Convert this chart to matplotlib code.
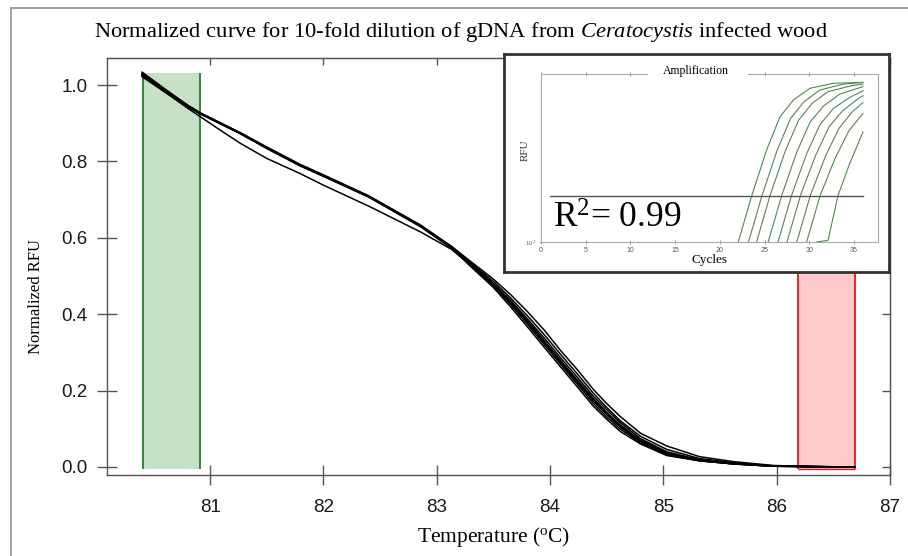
import matplotlib
matplotlib.use("Agg")
import matplotlib.pyplot as plt
from matplotlib.lines import Line2D
from matplotlib.patches import Rectangle
from matplotlib.ticker import NullLocator

plt.rcParams["mathtext.fontset"] = "custom"
plt.rcParams["mathtext.rm"] = "Liberation Serif"
plt.rcParams["mathtext.it"] = "Liberation Serif:italic"
plt.rcParams["font.family"] = ["Liberation Sans", "DejaVu Sans"]

# ---------------- data: melt curves ----------------
temps = [80.40, 80.60, 80.80, 80.91, 81.10, 81.27, 81.50, 81.79, 82.00, 82.40,
         82.86, 83.13, 83.30, 83.50, 83.65, 83.80, 83.95, 84.09, 84.24, 84.38,
         84.50, 84.62, 84.80, 85.03, 85.32, 85.62, 85.97, 86.30, 86.69]

melt_1 = [1.030, 0.987, 0.946, 0.927, 0.899, 0.874, 0.836, 0.791, 0.763, 0.709,
          0.632, 0.578, 0.538, 0.492, 0.452, 0.407, 0.358, 0.306, 0.255, 0.204,
          0.166, 0.132, 0.088, 0.055, 0.027, 0.014, 0.004, 0.001, 0.000]
melt_2 = [1.034, 0.990, 0.948, 0.928, 0.900, 0.875, 0.838, 0.793, 0.765, 0.710,
          0.633, 0.577, 0.535, 0.486, 0.443, 0.396, 0.346, 0.296, 0.244, 0.194,
          0.156, 0.121, 0.080, 0.046, 0.022, 0.011, 0.003, 0.001, 0.000]
melt_3 = [1.027, 0.985, 0.945, 0.926, 0.898, 0.873, 0.835, 0.790, 0.762, 0.708,
          0.630, 0.575, 0.532, 0.481, 0.437, 0.388, 0.337, 0.287, 0.235, 0.186,
          0.150, 0.116, 0.074, 0.040, 0.019, 0.009, 0.003, 0.001, 0.000]
melt_4 = [1.022, 0.982, 0.944, 0.925, 0.897, 0.872, 0.834, 0.789, 0.761, 0.707,
          0.629, 0.574, 0.530, 0.478, 0.433, 0.383, 0.330, 0.280, 0.228, 0.180,
          0.143, 0.110, 0.070, 0.037, 0.018, 0.009, 0.003, 0.001, 0.000]
melt_5 = [1.025, 0.984, 0.945, 0.926, 0.899, 0.874, 0.837, 0.792, 0.764, 0.709,
          0.631, 0.575, 0.529, 0.476, 0.430, 0.379, 0.325, 0.275, 0.222, 0.173,
          0.137, 0.104, 0.066, 0.034, 0.017, 0.008, 0.002, 0.001, 0.000]
melt_6 = [1.031, 0.988, 0.947, 0.927, 0.898, 0.873, 0.836, 0.791, 0.763, 0.708,
          0.630, 0.574, 0.527, 0.474, 0.426, 0.374, 0.320, 0.270, 0.217, 0.167,
          0.131, 0.099, 0.063, 0.032, 0.016, 0.008, 0.002, 0.001, 0.000]
melt_7 = [1.025, 0.982, 0.940, 0.918, 0.880, 0.847, 0.808, 0.769, 0.738, 0.683,
          0.615, 0.570, 0.528, 0.477, 0.432, 0.381, 0.328, 0.278, 0.225, 0.177,
          0.140, 0.107, 0.068, 0.036, 0.017, 0.008, 0.002, 0.001, 0.000]
melt_8 = [1.028, 0.986, 0.946, 0.926, 0.898, 0.873, 0.835, 0.790, 0.762, 0.707,
          0.629, 0.573, 0.525, 0.470, 0.420, 0.367, 0.313, 0.263, 0.210, 0.160,
          0.125, 0.093, 0.060, 0.030, 0.016, 0.008, 0.002, 0.001, 0.000]
melt_curves = [melt_1, melt_2, melt_3, melt_4, melt_5, melt_6, melt_7, melt_8]

green_range = (80.41, 80.91)
red_range = (86.19, 86.69)
band_top = 1.032

x_ticks = [81, 82, 83, 84, 85, 86, 87]
y_ticks = [0.0, 0.2, 0.4, 0.6, 0.8, 1.0]
y_tick_labels = ["0.0", "0.2", "0.4", "0.6", "0.8", "1.0"]

# ---------------- data: amplification inset (cycle, log10 RFU) ----------------
amp_1 = [(22.06, 2.00), (23.56, 2.55), (25.24, 3.10), (26.72, 3.49), (28.21, 3.69), (30.08, 3.83), (32.68, 3.89), (36.0, 3.90)]
amp_2 = [(23.20, 2.00), (24.70, 2.55), (26.40, 3.09), (27.90, 3.47), (29.40, 3.67), (31.20, 3.81), (33.80, 3.88), (36.0, 3.90)]
amp_3 = [(24.10, 2.00), (25.60, 2.55), (27.30, 3.08), (28.80, 3.45), (30.30, 3.65), (32.10, 3.79), (34.70, 3.86), (36.0, 3.88)]
amp_4 = [(25.40, 2.00), (26.90, 2.55), (28.60, 3.07), (30.10, 3.43), (31.60, 3.62), (33.40, 3.76), (36.0, 3.85)]
amp_5 = [(26.50, 2.00), (28.00, 2.55), (29.70, 3.05), (31.20, 3.40), (32.70, 3.59), (34.50, 3.72), (36.0, 3.80)]
amp_6 = [(27.50, 2.00), (29.00, 2.55), (30.70, 3.03), (32.20, 3.37), (33.70, 3.56), (35.50, 3.71), (36.0, 3.74)]
amp_7 = [(28.60, 2.00), (30.10, 2.55), (31.80, 3.02), (33.30, 3.35), (34.80, 3.55), (36.0, 3.66)]
amp_8 = [(29.70, 2.00), (31.20, 2.55), (32.90, 3.00), (34.40, 3.32), (36.0, 3.53)]
amp_9 = [(30.80, 2.00), (32.10, 2.02), (33.20, 2.55), (34.50, 2.93), (36.0, 3.31)]
amp_curves = [amp_1, amp_2, amp_3, amp_4, amp_5, amp_6, amp_7, amp_8, amp_9]
threshold_level = 2.55
threshold_span = (1.0, 35.97)
amp_x_ticks = [0, 5, 10, 15, 20, 25, 30, 35]
r2_text = "R$^{2}$= 0.99"

# ---------------- figure ----------------
W, H = 908, 556
fig = plt.figure(figsize=(W / 100, H / 100), dpi=100)

def fx(px):
    return px / W

def fy(py):
    return 1 - py / H

# outer frame lines (left and top)
fig.add_artist(Line2D([fx(11), fx(11)], [0, fy(8)], color="#9a9a9a", lw=1.3))
fig.add_artist(Line2D([fx(11), 1], [fy(8), fy(8)], color="#9a9a9a", lw=1.3))

ax = fig.add_axes([fx(107), fy(475), fx(890) - fx(107), fy(58) - fy(475)])
ax.set_xlim(80.09, 87.0)
ax.set_ylim(-0.021, 1.071)

ax.add_patch(Rectangle((green_range[0], -0.004), green_range[1] - green_range[0],
                       band_top + 0.004, facecolor="#c6e1c6", edgecolor="none", zorder=1))
ax.vlines(list(green_range), -0.004, band_top, colors="#2b7a2b", lw=1.3, zorder=2)
ax.add_patch(Rectangle((red_range[0], -0.004), red_range[1] - red_range[0],
                       band_top + 0.004, facecolor="#ffcaca", edgecolor="none", zorder=1))
ax.vlines(list(red_range), -0.004, band_top, colors="#e8161b", lw=1.3, zorder=2)
ax.hlines(-0.004, red_range[0], red_range[1], colors="#e8161b", lw=1.0, zorder=2)

for curve in melt_curves:
    ax.plot(temps, curve, color="black", lw=1.1, zorder=3, solid_joinstyle="round")

for s in ax.spines.values():
    s.set_color("#555555")
    s.set_linewidth(1.0)

ax.set_xticks(x_ticks)
ax.set_xticklabels([str(t) for t in x_ticks])
ax.set_yticks(y_ticks)
ax.set_yticklabels(y_tick_labels)
ax.tick_params(axis="both", direction="inout", length=14, width=1.0, color="#555555",
               labelsize=13.5, labelcolor="#1a1a1a")
ax.tick_params(axis="x", pad=10)
ax.tick_params(axis="y", pad=7)

secx = ax.secondary_xaxis("top")
secx.set_xticks(x_ticks)
secx.tick_params(direction="in", length=5, width=1.0, color="#555555", labeltop=False)
secx.spines["top"].set_color("#555555")
secy = ax.secondary_yaxis("right")
secy.set_yticks(y_ticks)
secy.tick_params(direction="in", length=6, width=1.0, color="#555555", labelright=False)
secy.spines["right"].set_color("#555555")

# titles and labels
fig.text(fx(461), fy(32),
         "Normalized curve for 10-fold dilution of gDNA from $\\mathit{Ceratocystis}$ infected wood",
         ha="center", va="center", fontsize=16.2, family="Liberation Serif")
fig.text(fx(36), fy(297), "Normalized RFU", rotation=90, ha="center", va="center",
         fontsize=12, family="Liberation Serif")
fig.text(fx(494), fy(537), "Temperature ($^{\\mathrm{o}}$C)", ha="center", va="center",
         fontsize=15.5, family="Liberation Serif")

# ---------------- inset ----------------
box = fig.add_axes([fx(504), fy(272), fx(889) - fx(504), fy(54) - fy(272)])
box.set_xticks([])
box.set_yticks([])
box.set_facecolor("white")
for s in box.spines.values():
    s.set_color("#333333")
    s.set_linewidth(2.0)

ins = fig.add_axes([fx(541), fy(242), fx(878) - fx(541), fy(74) - fy(242)])
ins.set_facecolor("white")
ins.set_xlim(0, 37.68)
ins.set_yscale("log")
ins.set_ylim(100, 10000)
ins.yaxis.set_minor_locator(NullLocator())
ins.set_yticks([100])
ins.set_yticklabels(["$10^2$"])
ins.set_xticks(amp_x_ticks)
ins.set_xticklabels([str(t) for t in amp_x_ticks])
ins.tick_params(axis="both", direction="inout", length=3, width=0.6, color="#888888",
                labelsize=5, labelcolor="#555555", pad=2, top=True)
for s in ins.spines.values():
    s.set_color("#aaaaaa")
    s.set_linewidth(0.8)

for curve in amp_curves:
    cx = [p[0] for p in curve]
    cy = [10 ** p[1] for p in curve]
    ins.plot(cx, cy, color="#4f8a4f", lw=0.8)

ins.plot(list(threshold_span), [10 ** threshold_level] * 2, color="#555555", lw=1.0)
ins.text(1.34, 10 ** 2.17, r2_text, fontsize=25.5, family="Liberation Serif",
         ha="left", va="baseline")
ins.text((696 - 541) / 337, (242 - 71) / 168, "Amplification", transform=ins.transAxes,
         ha="center", va="center", fontsize=8.5, family="Liberation Serif",
         bbox=dict(facecolor="white", edgecolor="none", pad=2), zorder=5)
ins.spines["top"].set_visible(False)
ins.add_artist(Line2D([0, (647 - 541) / 337], [1, 1], transform=ins.transAxes,
                      color="#aaaaaa", lw=0.8, clip_on=False))
ins.add_artist(Line2D([(748 - 541) / 337, 1], [1, 1], transform=ins.transAxes,
                      color="#aaaaaa", lw=0.8, clip_on=False))
fig.text(fx(525), fy(150), "RFU", rotation=90, ha="center", va="center",
         fontsize=8, family="Liberation Serif", color="#333333")
fig.text(fx(709), fy(259.5), "Cycles", ha="center", va="center",
         fontsize=9.5, family="Liberation Serif")

fig.savefig("out.png", dpi=100)
